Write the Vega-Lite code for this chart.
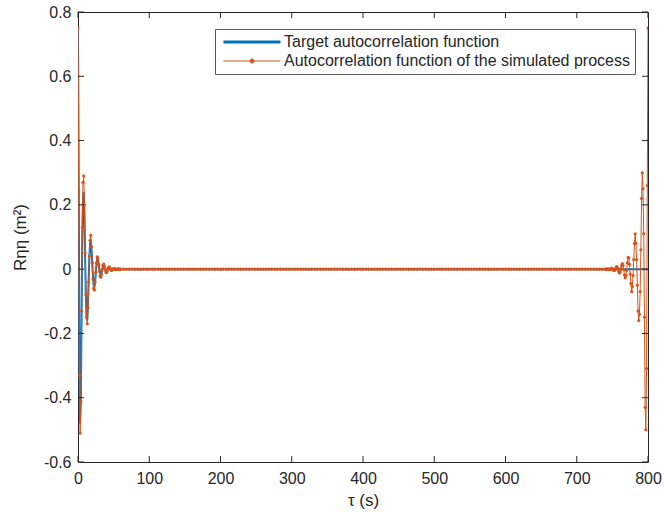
{
  "$schema": "https://vega.github.io/schema/vega-lite/v6.json",
  "width": 570,
  "height": 450,
  "autosize": "none",
  "padding": {"left": 78, "top": 12, "right": 16, "bottom": 56},
  "background": "white",
  "config": {
    "view": {"stroke": "#262626", "strokeWidth": 1},
    "scale": {"continuousPadding": 0},
    "font": "Liberation Sans",
    "axis": {
      "grid": false,
      "domain": false,
      "ticks": false,
      "labelFlush": false,
      "labelColor": "#262626",
      "titleColor": "#262626",
      "labelFont": "Liberation Sans",
      "titleFont": "Liberation Sans",
      "labelFontSize": 16,
      "titleFontSize": 17,
      "titleFontWeight": "normal"
    }
  },
  "datasets": {
    "xt": [{"v":0},{"v":100},{"v":200},{"v":300},{"v":400},{"v":500},{"v":600},{"v":700},{"v":800}],
    "yt": [{"v":-0.6},{"v":-0.4},{"v":-0.2},{"v":0},{"v":0.2},{"v":0.4},{"v":0.6},{"v":0.8}],
    "target": [
      {"t":0,"r":0.75},{"t":1,"r":0.27},{"t":2,"r":-0.28},{"t":3,"r":-0.48},{"t":4,"r":-0.4},{"t":5,"r":-0.15},
      {"t":6,"r":0.1},{"t":7,"r":0.22},{"t":8,"r":0.24},{"t":9,"r":0.17},{"t":10,"r":0.04},{"t":11,"r":-0.08},
      {"t":12,"r":-0.15},{"t":13,"r":-0.16},{"t":14,"r":-0.11},{"t":15,"r":-0.03},{"t":16,"r":0.04},{"t":17,"r":0.08},
      {"t":18,"r":0.09},{"t":19,"r":0.06},{"t":20,"r":0.02},{"t":21,"r":-0.02},{"t":22,"r":-0.05},{"t":23,"r":-0.055},
      {"t":24,"r":-0.04},{"t":25,"r":-0.01},{"t":26,"r":0.015},{"t":27,"r":0.03},{"t":28,"r":0.028},{"t":29,"r":0.015},
      {"t":30,"r":0},{"t":31,"r":-0.012},{"t":32,"r":-0.018},{"t":33,"r":-0.012},{"t":34,"r":0},{"t":35,"r":0.008},
      {"t":36,"r":0.011},{"t":37,"r":0.007},{"t":38,"r":0},{"t":39,"r":-0.005},{"t":40,"r":-0.007},{"t":42,"r":0},
      {"t":44,"r":0.004},{"t":46,"r":0},{"t":48,"r":-0.002},{"t":50,"r":0},{"t":60,"r":0},{"t":800,"r":0}
    ],
    "sim": [
      {"t":0,"r":0.75},{"t":1,"r":0.24},{"t":2,"r":-0.33},{"t":3,"r":-0.51},{"t":4,"r":-0.41},{"t":5,"r":-0.13},
      {"t":6,"r":0.13},{"t":7,"r":0.27},{"t":8,"r":0.29},{"t":9,"r":0.2},{"t":10,"r":0.05},{"t":11,"r":-0.08},
      {"t":12,"r":-0.15},{"t":13,"r":-0.17},{"t":14,"r":-0.12},{"t":15,"r":-0.04},{"t":16,"r":0.04},{"t":17,"r":0.09},
      {"t":18,"r":0.105},{"t":19,"r":0.07},{"t":20,"r":0.02},{"t":21,"r":-0.03},{"t":22,"r":-0.06},{"t":23,"r":-0.065},
      {"t":24,"r":-0.04},{"t":25,"r":-0.01},{"t":26,"r":0.02},{"t":27,"r":0.038},{"t":28,"r":0.032},{"t":29,"r":0.015},
      {"t":30,"r":-0.006},{"t":31,"r":-0.02},{"t":32,"r":-0.025},{"t":33,"r":-0.016},{"t":34,"r":0},{"t":35,"r":0.012},
      {"t":36,"r":0.016},{"t":37,"r":0.01},{"t":38,"r":0},{"t":39,"r":-0.008},{"t":40,"r":-0.011},{"t":41,"r":-0.006},
      {"t":42,"r":0.002},{"t":43,"r":0.006},{"t":44,"r":0.007},{"t":45,"r":0.003},{"t":46,"r":-0.002},{"t":47,"r":-0.004},
      {"t":48,"r":-0.003},{"t":49,"r":0},{"t":50,"r":0.002},{"t":51,"r":0.002},{"t":52,"r":0.001},{"t":53,"r":-0.001},
      {"t":54,"r":-0.001},{"t":55,"r":0},{"t":56,"r":0.001},{"t":57,"r":0},{"t":58,"r":0},{"t":59,"r":0},{"t":60,"r":0},
      {"t":64,"r":0},{"t":68,"r":0},{"t":72,"r":0},{"t":76,"r":0},{"t":80,"r":0},{"t":84,"r":0},{"t":88,"r":0},
      {"t":92,"r":0},{"t":96,"r":0},{"t":100,"r":0},{"t":104,"r":0},{"t":108,"r":0},{"t":112,"r":0},{"t":116,"r":0},
      {"t":120,"r":0},{"t":124,"r":0},{"t":128,"r":0},{"t":132,"r":0},{"t":136,"r":0},{"t":140,"r":0},{"t":144,"r":0},
      {"t":148,"r":0},{"t":152,"r":0},{"t":156,"r":0},{"t":160,"r":0},{"t":164,"r":0},{"t":168,"r":0},{"t":172,"r":0},
      {"t":176,"r":0},{"t":180,"r":0},{"t":184,"r":0},{"t":188,"r":0},{"t":192,"r":0},{"t":196,"r":0},{"t":200,"r":0},
      {"t":204,"r":0},{"t":208,"r":0},{"t":212,"r":0},{"t":216,"r":0},{"t":220,"r":0},{"t":224,"r":0},{"t":228,"r":0},
      {"t":232,"r":0},{"t":236,"r":0},{"t":240,"r":0},{"t":244,"r":0},{"t":248,"r":0},{"t":252,"r":0},{"t":256,"r":0},
      {"t":260,"r":0},{"t":264,"r":0},{"t":268,"r":0},{"t":272,"r":0},{"t":276,"r":0},{"t":280,"r":0},{"t":284,"r":0},
      {"t":288,"r":0},{"t":292,"r":0},{"t":296,"r":0},{"t":300,"r":0},{"t":304,"r":0},{"t":308,"r":0},{"t":312,"r":0},
      {"t":316,"r":0},{"t":320,"r":0},{"t":324,"r":0},{"t":328,"r":0},{"t":332,"r":0},{"t":336,"r":0},{"t":340,"r":0},
      {"t":344,"r":0},{"t":348,"r":0},{"t":352,"r":0},{"t":356,"r":0},{"t":360,"r":0},{"t":364,"r":0},{"t":368,"r":0},
      {"t":372,"r":0},{"t":376,"r":0},{"t":380,"r":0},{"t":384,"r":0},{"t":388,"r":0},{"t":392,"r":0},{"t":396,"r":0},
      {"t":400,"r":0},{"t":404,"r":0},{"t":408,"r":0},{"t":412,"r":0},{"t":416,"r":0},{"t":420,"r":0},{"t":424,"r":0},
      {"t":428,"r":0},{"t":432,"r":0},{"t":436,"r":0},{"t":440,"r":0},{"t":444,"r":0},{"t":448,"r":0},{"t":452,"r":0},
      {"t":456,"r":0},{"t":460,"r":0},{"t":464,"r":0},{"t":468,"r":0},{"t":472,"r":0},{"t":476,"r":0},{"t":480,"r":0},
      {"t":484,"r":0},{"t":488,"r":0},{"t":492,"r":0},{"t":496,"r":0},{"t":500,"r":0},{"t":504,"r":0},{"t":508,"r":0},
      {"t":512,"r":0},{"t":516,"r":0},{"t":520,"r":0},{"t":524,"r":0},{"t":528,"r":0},{"t":532,"r":0},{"t":536,"r":0},
      {"t":540,"r":0},{"t":544,"r":0},{"t":548,"r":0},{"t":552,"r":0},{"t":556,"r":0},{"t":560,"r":0},{"t":564,"r":0},
      {"t":568,"r":0},{"t":572,"r":0},{"t":576,"r":0},{"t":580,"r":0},{"t":584,"r":0},{"t":588,"r":0},{"t":592,"r":0},
      {"t":596,"r":0},{"t":600,"r":0},{"t":604,"r":0},{"t":608,"r":0},{"t":612,"r":0},{"t":616,"r":0},{"t":620,"r":0},
      {"t":624,"r":0},{"t":628,"r":0},{"t":632,"r":0},{"t":636,"r":0},{"t":640,"r":0},{"t":644,"r":0},{"t":648,"r":0},
      {"t":652,"r":0},{"t":656,"r":0},{"t":660,"r":0},{"t":664,"r":0},{"t":668,"r":0},{"t":672,"r":0},{"t":676,"r":0},
      {"t":680,"r":0},{"t":684,"r":0},{"t":688,"r":0},{"t":692,"r":0},{"t":696,"r":0},{"t":700,"r":0},{"t":704,"r":0},
      {"t":708,"r":0},{"t":712,"r":0},{"t":716,"r":0},{"t":720,"r":0},{"t":724,"r":0},{"t":728,"r":0},{"t":732,"r":0},
      {"t":736,"r":0},
      {"t":740,"r":0},{"t":741,"r":0},{"t":742,"r":0},{"t":743,"r":0},{"t":744,"r":0.001},{"t":745,"r":0},
      {"t":746,"r":-0.002},{"t":747,"r":-0.001},{"t":748,"r":0.001},{"t":749,"r":0.003},{"t":750,"r":0.002},{"t":751,"r":-0.001},
      {"t":752,"r":-0.004},{"t":753,"r":-0.004},{"t":754,"r":-0.001},{"t":755,"r":0.004},{"t":756,"r":0.008},{"t":757,"r":0.005},
      {"t":758,"r":0},{"t":759,"r":-0.008},{"t":760,"r":-0.012},{"t":761,"r":-0.007},{"t":762,"r":0.002},{"t":763,"r":0.012},
      {"t":764,"r":0.017},{"t":765,"r":0.011},{"t":766,"r":-0.002},{"t":767,"r":-0.018},{"t":768,"r":-0.027},{"t":769,"r":-0.02},
      {"t":770,"r":-0.004},{"t":771,"r":0.02},{"t":772,"r":0.036},{"t":773,"r":0.035},{"t":774,"r":0.015},{"t":775,"r":-0.015},
      {"t":776,"r":-0.045},{"t":777,"r":-0.07},{"t":778,"r":-0.055},{"t":779,"r":-0.02},{"t":780,"r":0.03},{"t":781,"r":0.08},
      {"t":782,"r":0.11},{"t":783,"r":0.08},{"t":784,"r":0.03},{"t":785,"r":-0.05},{"t":786,"r":-0.13},{"t":787,"r":-0.16},
      {"t":788,"r":-0.14},{"t":789,"r":-0.07},{"t":790,"r":0.06},{"t":791,"r":0.22},{"t":792,"r":0.3},{"t":793,"r":0.25},
      {"t":794,"r":0.11},{"t":795,"r":-0.15},{"t":796,"r":-0.43},{"t":797,"r":-0.5},{"t":798,"r":-0.31},{"t":799,"r":0.26},
      {"t":800,"r":0.75}
    ]
  },
  "layer": [
    {
      "data": {"name": "target"},
      "mark": {"type": "line", "strokeWidth": 2, "clip": true},
      "encoding": {
        "x": {"field": "t", "type": "quantitative", "scale": {"domain": [0, 800], "nice": false, "zero": false, "padding": 0},
              "axis": {"values": [0,100,200,300,400,500,600,700,800], "title": "τ (s)", "titlePadding": 6, "labelPadding": 8}},
        "y": {"field": "r", "type": "quantitative", "scale": {"domain": [-0.6, 0.8], "nice": false, "zero": false, "padding": 0},
              "axis": {"values": [-0.6,-0.4,-0.2,0,0.2,0.4,0.6,0.8], "labelPadding": 7,
                       "labelExpr": "datum.value == 0 ? '0' : replace(format(datum.value, '.1f'), '−', '-')",
                       "title": "Rηη (m²)", "titlePadding": 14}},
        "color": {"datum": "Target autocorrelation function", "type": "nominal",
                  "scale": {"domain": ["Target autocorrelation function", "Autocorrelation function of the simulated process"],
                            "range": ["#0072BD", "#D95319"]},
                  "legend": {
                    "orient": "none", "legendX": 137, "legendY": 17, "title": null,
                    "fillColor": "white", "strokeColor": "#555555", "padding": 5, "symbolOffset": 24,
                    "symbolType": "stroke", "symbolSize": 3249, "symbolStrokeWidth": 2,
                    "labelFontSize": 16, "labelColor": "#262626", "labelFont": "Liberation Sans", "labelLimit": 600,
                    "rowPadding": 3, "labelOffset": 24,
                    "encode": {"symbols": {"update": {
                      "strokeWidth": {"signal": "datum.label == 'Target autocorrelation function' ? 3 : 1"},
                      "shape": {"signal": "datum.label == 'Target autocorrelation function' ? 'stroke' : 'M-1,0L1,0M-0.07,0A0.07,0.07 0 1,1 0.07,0A0.07,0.07 0 1,1 -0.07,0Z'"},
                      "fill": {"signal": "datum.label == 'Target autocorrelation function' ? 'transparent' : '#D95319'"}
                    }}}
                  }}
      }
    },
    {
      "data": {"name": "sim"},
      "mark": {"type": "line", "strokeWidth": 1, "clip": true, "point": {"size": 10, "filled": true}},
      "encoding": {
        "x": {"field": "t", "type": "quantitative"},
        "y": {"field": "r", "type": "quantitative"},
        "color": {"datum": "Autocorrelation function of the simulated process", "type": "nominal"}
      }
    },
    {
      "data": {"name": "xt"},
      "mark": {"type": "rule", "strokeWidth": 1, "color": "#262626"},
      "encoding": {"x": {"field": "v", "type": "quantitative"}, "y": {"datum": -0.6}, "y2": {"datum": -0.5813}}
    },
    {
      "data": {"name": "xt"},
      "mark": {"type": "rule", "strokeWidth": 1, "color": "#262626"},
      "encoding": {"x": {"field": "v", "type": "quantitative"}, "y": {"datum": 0.8}, "y2": {"datum": 0.7813}}
    },
    {
      "data": {"name": "yt"},
      "mark": {"type": "rule", "strokeWidth": 1, "color": "#262626"},
      "encoding": {"y": {"field": "v", "type": "quantitative"}, "x": {"datum": 0}, "x2": {"datum": 8.4}}
    },
    {
      "data": {"name": "yt"},
      "mark": {"type": "rule", "strokeWidth": 1, "color": "#262626"},
      "encoding": {"y": {"field": "v", "type": "quantitative"}, "x": {"datum": 800}, "x2": {"datum": 791.6}}
    }
  ]
}
